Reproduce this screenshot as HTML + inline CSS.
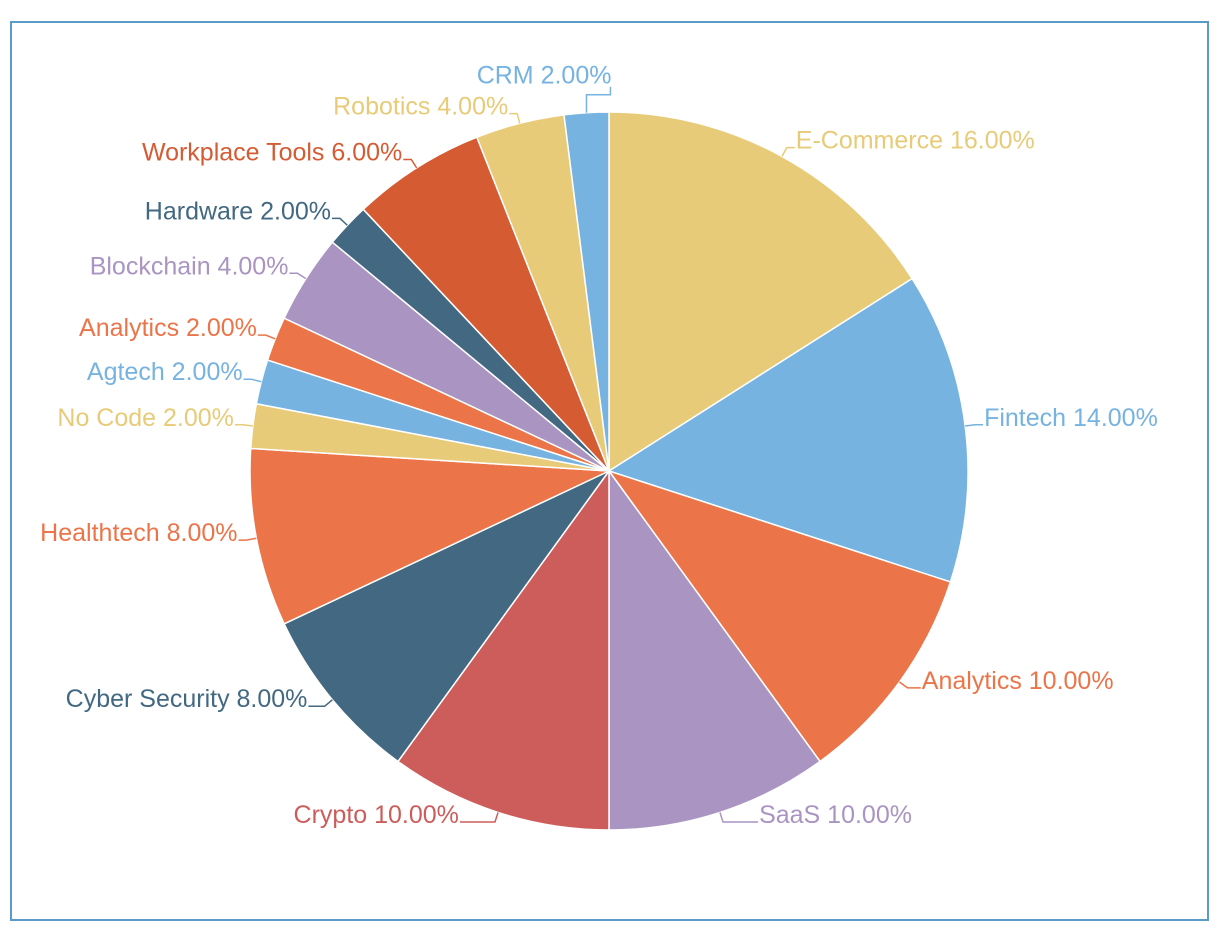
<!DOCTYPE html>
<html><head><meta charset="utf-8">
<style>
html,body{margin:0;padding:0;background:#fff;}
svg{display:block;}
text{font-family:"Liberation Sans",sans-serif;font-size:25px;}
</style></head>
<body>
<svg id="chart" width="1222" height="940">
<rect x="11" y="22" width="1197" height="898" fill="none" stroke="#5b9bc8" stroke-width="2"/>
<g id="slices"></g><g id="labels"></g>
</svg>
<script>
const categories=["E-Commerce","Fintech","Analytics","SaaS","Crypto","Cyber Security","Healthtech","No Code","Agtech","Analytics","Blockchain","Hardware","Workplace Tools","Robotics","CRM"];
const values=[16,14,10,10,10,8,8,2,2,2,4,2,6,4,2];
const colors=["#E8CB78","#76B3E0","#EC7449","#A994C2","#CC5D5A","#426882","#EC7449","#E8CB78","#76B3E0","#EC7449","#A994C2","#426882","#D55B33","#E8CB78","#76B3E0"];
const NS="http://www.w3.org/2000/svg";
const cx=609,cy=471,R=359;
const total=values.reduce((a,b)=>a+b,0);
const sG=document.getElementById('slices'),lG=document.getElementById('labels');
function pt(a,r){return [cx+r*Math.sin(a),cy-r*Math.cos(a)];}
let cum=0;
values.forEach((v,i)=>{
  const a0=cum/total*2*Math.PI; cum+=v; const a1=cum/total*2*Math.PI;
  const p0=pt(a0,R),p1=pt(a1,R);
  const large=(a1-a0)>Math.PI?1:0;
  const path=document.createElementNS(NS,'path');
  path.setAttribute('d',`M${cx},${cy}L${p0[0]},${p0[1]}A${R},${R} 0 ${large} 1 ${p1[0]},${p1[1]}Z`);
  path.setAttribute('fill',colors[i]);path.setAttribute('stroke','#fff');path.setAttribute('stroke-width','1.5');
  
  
  sG.appendChild(path);
  const am=(a0+a1)/2;
  const e=pt(am,R);
  let m=pt(am,R+10);
  const right=Math.sin(am)>=0;
  const ext=8+60*Math.max(0,-Math.cos(am)-0.5);
  let pts;
  let ex=m[0]+(right?ext:-ext), ey=m[1];
  if(i===values.length-1){
    const up=[e[0],e[1]-18];
    ex=up[0]+24; ey=up[1];
    pts=`${e[0]},${e[1]} ${up[0]},${up[1]} ${ex},${ey} ${ex},${ey-8}`;
    ex=ex+2; ey=ey-12;
  } else {
    pts=`${e[0]},${e[1]} ${m[0]},${m[1]} ${ex},${ey}`;
  }
  const line=document.createElementNS(NS,'polyline');
  line.setAttribute('points',pts);
  line.setAttribute('fill','none');line.setAttribute('stroke',colors[i]);line.setAttribute('stroke-width','1.5');
  
  
  lG.appendChild(line);
  const t=document.createElementNS(NS,'text');
  const anchorRight = i===values.length-1 ? false : right;
  t.setAttribute('x',ex+(anchorRight?1:-1));t.setAttribute('y',ey+1);
  t.setAttribute('text-anchor',anchorRight?'start':'end');t.setAttribute('fill',colors[i]);
  t.textContent=categories[i]+' '+(v/total*100).toFixed(2)+'%';
  
  
  lG.appendChild(t);
});
</script>
</body></html>
